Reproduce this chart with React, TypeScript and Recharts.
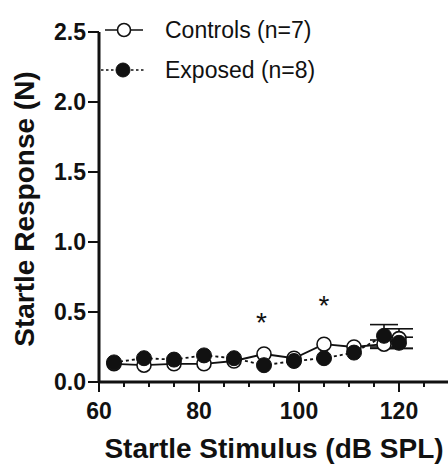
import React from 'react';
import { ComposedChart, Line, Scatter, XAxis, YAxis, ErrorBar, Legend } from 'recharts';

const stimulus = [63, 69, 75, 81, 87, 93, 99, 105, 111, 117, 120];
const controls = [0.13, 0.12, 0.13, 0.13, 0.15, 0.2, 0.17, 0.27, 0.25, 0.27, 0.31];
const controlsErr = [0, 0, 0, 0, 0, 0, 0, 0, 0, 0.03, 0.07];
const exposed = [0.14, 0.17, 0.16, 0.19, 0.17, 0.12, 0.15, 0.17, 0.21, 0.33, 0.28];
const exposedErr = [0, 0, 0, 0, 0, 0, 0, 0, 0, 0.08, 0.04];

const starX = [92.5, 105];
const starY = [0.46, 0.58];

const xTicks = [60, 65, 70, 75, 80, 85, 90, 95, 100, 105, 110, 115, 120, 125, 130];
const yTicks = [0, 0.5, 1.0, 1.5, 2.0, 2.5];

const seriesNames = ['Controls (n=7)', 'Exposed (n=8)'];

const data = stimulus.map((x, i) => ({
  x,
  controls: controls[i],
  cErr: controlsErr[i],
  exposed: exposed[i],
  eErr: exposedErr[i],
}));
const stars = starX.map((x, i) => ({ x, y: starY[i] }));

const FONT = '"Liberation Sans", Arial, Helvetica, sans-serif';

const XTick = (props: any) => {
  const { x, y, payload } = props;
  const major = payload.value % 20 === 0;
  return (
    <g>
      <line x1={x} x2={x} y1={y} y2={y + (major ? 10 : 5)} stroke="#111" strokeWidth={2} />
      {major && (
        <text x={x} y={y + 37} textAnchor="middle" fontFamily={FONT} fontWeight="bold" fontSize={23} fill="#111">
          {payload.value}
        </text>
      )}
    </g>
  );
};

const YTick = (props: any) => {
  const { x, y, payload } = props;
  return (
    <g>
      <line x1={x - 11} x2={x} y1={y} y2={y} stroke="#111" strokeWidth={2} />
      <text x={x - 13} y={y + 8} textAnchor="end" fontFamily={FONT} fontWeight="bold" fontSize={23} fill="#111">
        {Number(payload.value).toFixed(1)}
      </text>
    </g>
  );
};

const YLabel = (props: any) => {
  const vb = props.viewBox || { x: 0, y: 0, width: 0, height: 0 };
  const cx = vb.x + 34;
  const cy = vb.y + vb.height / 2 + 2;
  return (
    <text
      transform={`translate(${cx},${cy}) rotate(-90)`}
      textAnchor="middle"
      fontFamily={FONT}
      fontWeight="bold"
      fontSize={28}
      fill="#111"
    >
      Startle Response (N)
    </text>
  );
};

const Star = (props: any) => {
  const { cx, cy } = props;
  return (
    <text x={cx} y={cy + 14} textAnchor="middle" fontFamily={FONT} fontSize={28} fill="#111">
      *
    </text>
  );
};

const LegendContent = () => (
  <svg width={448} height={100} style={{ display: 'block' }}>
    <g>
      <line x1={105} x2={143} y1={30} y2={30} stroke="#111" strokeWidth={1.6} />
      <circle cx={124} cy={30} r={6.5} fill="#fff" stroke="#111" strokeWidth={1.6} />
      <text x={165} y={38} fontFamily={FONT} fontSize={23} fill="#111">
        {seriesNames[0]}
      </text>
    </g>
    <g>
      <line x1={101} x2={145} y1={70} y2={70} stroke="#111" strokeWidth={1.6} strokeDasharray="2.5 2.5" />
      <circle cx={123} cy={70} r={7} fill="#111" stroke="#111" strokeWidth={1} />
      <text x={165} y={78} fontFamily={FONT} fontSize={23} fill="#111">
        {seriesNames[1]}
      </text>
    </g>
  </svg>
);

export default function App() {
  return (
    <div style={{ position: 'absolute', left: 0, top: 0, width: 448, height: 464, overflow: 'hidden', background: '#fff' }}>
      <ComposedChart width={450} height={464} data={data} margin={{ top: 32, right: 1, bottom: 0, left: 0 }}>
        <XAxis
          dataKey="x"
          type="number"
          domain={[60, 130]}
          ticks={xTicks}
          interval={0}
          tickSize={0}
          tickMargin={0}
          tickLine={false}
          tick={<XTick />}
          height={82}
          axisLine={{ stroke: '#111', strokeWidth: 3 }}
          label={{
            value: 'Startle Stimulus (dB SPL)',
            position: 'insideBottom',
            offset: 6,
            fontFamily: FONT,
            fontWeight: 'bold',
            fontSize: 28,
            fill: '#111',
          }}
        />
        <YAxis
          type="number"
          domain={[0, 2.5]}
          ticks={yTicks}
          interval={0}
          tickSize={0}
          tickMargin={0}
          tickLine={false}
          tick={<YTick />}
          width={99}
          axisLine={{ stroke: '#111', strokeWidth: 3 }}
          label={{ content: <YLabel /> }}
        />
        <Legend
          content={<LegendContent />}
          layout="vertical"
          align="center"
          verticalAlign="middle"
          wrapperStyle={{ left: 0, top: 0, width: 448 }}
        />
        <Line
          dataKey="controls"
          name={seriesNames[0]}
          stroke="#111"
          strokeWidth={1.8}
          isAnimationActive={false}
          dot={{ r: 7, fill: '#fff', stroke: '#111', strokeWidth: 1.6 }}
          activeDot={false}
        >
          <ErrorBar dataKey="cErr" direction="y" width={14} stroke="#111" strokeWidth={1.6} />
        </Line>
        <Line
          dataKey="exposed"
          name={seriesNames[1]}
          stroke="#111"
          strokeWidth={1.8}
          strokeDasharray="3 3"
          isAnimationActive={false}
          dot={{ r: 7.5, fill: '#111', stroke: '#111', strokeWidth: 1, strokeDasharray: '0' }}
          activeDot={false}
        >
          <ErrorBar dataKey="eErr" direction="y" width={14} stroke="#111" strokeWidth={1.6} />
        </Line>
        <Scatter data={stars} dataKey="y" shape={<Star />} isAnimationActive={false} />
      </ComposedChart>
    </div>
  );
}
